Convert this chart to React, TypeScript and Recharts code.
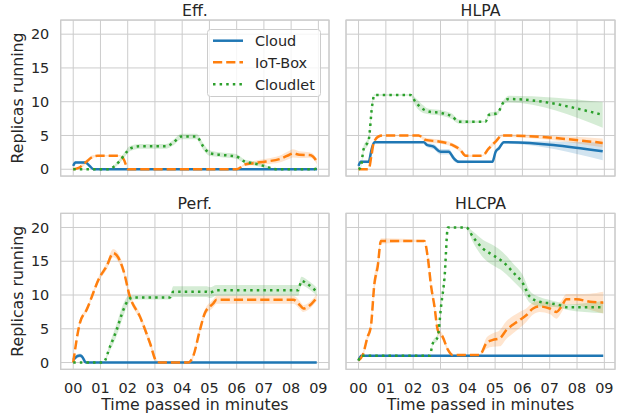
import React from 'react';
import {
  ComposedChart,
  Line,
  Area,
  XAxis,
  YAxis,
  CartesianGrid,
  ReferenceArea,
  Legend,
} from 'recharts';

// ---------- labels ----------
const minuteTicks = [0, 1, 2, 3, 4, 5, 6, 7, 8, 9];
const replicaTicks = [0, 5, 10, 15, 20];
const seriesNames = ['Cloud', 'IoT-Box', 'Cloudlet'];
const panelTitles = ['Eff.', 'HLPA', 'Perf.', 'HLCPA'];
const xLabel = 'Time passed in minutes';
const yLabel = 'Replicas running';

// ---------- Eff. ----------
const effCloudT = [0, 0.08, 0.45, 0.6, 0.75, 8.95];
const effCloudV = [0.5, 1, 1, 0.5, 0, 0];
const effCloudS = [0.3, 0.2, 0.2, 0.3, 0, 0];

const effIotT = [0, 0.2, 0.45, 0.75, 0.9, 1.72, 1.85, 2.02, 6.0, 6.3, 6.6, 7.08, 7.57, 7.94, 8.06, 8.3, 8.67, 8.8, 8.95];
const effIotV = [0, 0.2, 1.0, 1.9, 2.0, 2.0, 1.5, 0, 0, 0.7, 0.9, 1.15, 1.5, 2.15, 2.35, 2.15, 2.1, 1.9, 1.1];
const effIotS = [0, 0.2, 0.3, 0.2, 0.1, 0.1, 0.2, 0, 0, 0.2, 0.3, 0.4, 0.5, 0.6, 0.6, 0.5, 0.4, 0.4, 0.4];

const effCletT = [0, 1.3, 1.5, 1.7, 1.95, 2.08, 2.44, 3.42, 3.66, 3.97, 4.52, 4.77, 5.0, 5.37, 5.98, 6.29, 6.6, 7.08, 7.45, 8.85, 8.95];
const effCletV = [0, 0, 0.4, 1.2, 2.5, 3.05, 3.4, 3.4, 3.9, 4.85, 4.85, 3.4, 2.4, 2.15, 1.9, 1.15, 0.9, 0.4, 0, 0, 0.3];
const effCletS = [0, 0, 0.2, 0.3, 0.4, 0.4, 0.35, 0.35, 0.4, 0.4, 0.4, 0.5, 0.4, 0.35, 0.35, 0.3, 0.3, 0.2, 0, 0, 0.3];

// ---------- HLPA ----------
const hlpaCloudT = [0, 0.08, 0.37, 0.48, 0.58, 2.39, 2.5, 2.75, 3.0, 3.3, 3.49, 3.67, 4.9, 5.02, 5.14, 5.32, 8.94];
const hlpaCloudV = [0.5, 1.1, 1.1, 3.0, 4.0, 4.0, 3.6, 3.35, 2.6, 2.6, 1.6, 1.1, 1.1, 2.6, 3.1, 4.0, 2.65];
const hlpaCloudS = [0.3, 0.2, 0.2, 0.2, 0.1, 0.1, 0.3, 0.4, 0.4, 0.4, 0.4, 0.2, 0.1, 0.3, 0.3, 0.2, 1.3];

const hlpaIotT = [0, 0.37, 0.47, 0.55, 0.73, 0.9, 2.2, 2.45, 2.94, 3.43, 3.73, 3.92, 4.53, 4.77, 5.02, 5.26, 8.94];
const hlpaIotV = [0, 0, 2.0, 3.85, 4.85, 5.0, 5.0, 4.35, 4.1, 3.6, 2.85, 2.0, 2.0, 3.1, 4.1, 5.0, 3.9];
const hlpaIotS = [0, 0, 0.3, 0.3, 0.2, 0.1, 0.1, 0.3, 0.3, 0.3, 0.3, 0.2, 0.1, 0.3, 0.3, 0.2, 0.65];

const hlpaCletT = [0, 0.08, 0.18, 0.37, 0.5, 0.58, 1.9, 2.08, 2.33, 2.57, 3.06, 3.43, 3.67, 4.65, 4.77, 5.08, 5.32, 5.5, 8.94];
const hlpaCletV = [0, 0.3, 2.9, 4.35, 9.5, 11.0, 11.0, 10.0, 9.0, 8.55, 8.3, 7.8, 7.05, 7.05, 8.05, 8.3, 10.0, 10.4, 8.05];
const hlpaCletS = [0, 0.2, 0.5, 0.5, 0.5, 0.1, 0.1, 0.6, 0.6, 0.4, 0.4, 0.4, 0.3, 0.1, 0.3, 0.3, 0.3, 0.5, 1.9];

// ---------- Perf. ----------
const perfCloudT = [0, 0.15, 0.25, 0.32, 0.47, 8.94];
const perfCloudV = [0.4, 0.95, 1.05, 0.9, 0, 0];
const perfCloudS = [0.3, 0.3, 0.3, 0.3, 0, 0];

const perfIotT = [0, 0.24, 0.49, 0.98, 1.22, 1.47, 1.59, 1.84, 2.08, 2.45, 2.82, 3.06, 3.18, 4.22, 4.4, 4.65, 4.83, 5.14, 5.26, 8.08, 8.32, 8.45, 8.63, 8.94];
const perfIotV = [0, 5.8, 7.8, 12.7, 14.2, 16.2, 15.9, 13.7, 9.75, 6.8, 2.86, 0.15, 0, 0, 0.9, 4.8, 7.3, 8.75, 9.3, 9.3, 8.5, 8.0, 8.3, 9.6];
const perfIotS = [0, 0.3, 0.3, 0.4, 0.5, 0.6, 0.6, 0.6, 0.5, 0.5, 0.5, 0.3, 0, 0, 0.3, 0.5, 0.5, 0.6, 0.6, 0.6, 0.6, 0.5, 0.5, 0.5];

const perfCletT = [0, 1.1, 1.35, 1.59, 1.84, 2.02, 2.2, 3.55, 3.67, 4.9, 5.02, 5.26, 8.26, 8.38, 8.57, 8.94];
const perfCletV = [0, 0, 2.36, 4.8, 7.8, 9.26, 9.65, 9.65, 10.5, 10.5, 10.35, 10.7, 10.7, 12.1, 11.7, 10.5];
const perfCletS = [0, 0, 0.6, 0.9, 0.9, 0.6, 0.3, 0.3, 0.8, 0.8, 0.8, 0.8, 0.8, 0.6, 0.6, 0.6];

// ---------- HLCPA ----------
const hlcpaCloudT = [0, 0.1, 8.96];
const hlcpaCloudV = [0.3, 1, 1];
const hlcpaCloudS = [0, 0, 0];

const hlcpaIotT = [0, 0.15, 0.33, 0.45, 0.58, 0.7, 0.82, 2.41, 2.53, 2.66, 2.78, 2.9, 3.08, 3.27, 3.45, 4.43, 4.68, 4.92, 5.17, 5.41, 5.65, 5.9, 6.14, 6.39, 6.63, 7.0, 7.25, 7.43, 7.61, 7.98, 8.47, 8.96];
const hlcpaIotV = [0.3, 1.1, 3.8, 5.3, 11.7, 14.2, 18, 18, 15.7, 11.2, 8.3, 4.8, 3.8, 1.9, 1.1, 1.1, 2.86, 3.35, 3.6, 4.8, 5.6, 6.3, 7.0, 8.0, 8.3, 8.0, 7.5, 8.3, 9.36, 9.36, 9.0, 8.87];
const hlcpaIotS = [0, 0.3, 0.5, 0.8, 1.2, 1.0, 0.4, 0.1, 0.4, 0.5, 0.5, 0.5, 0.4, 0.3, 0.1, 0.1, 0.8, 1.0, 1.2, 1.3, 1.3, 1.2, 1.0, 0.9, 0.8, 0.8, 1.0, 0.9, 0.8, 0.8, 1.2, 1.6];

const hlcpaCletT = [0, 0.08, 2.6, 2.72, 2.9, 3.02, 3.15, 3.27, 3.94, 4.19, 4.55, 4.92, 5.29, 5.65, 6.02, 6.27, 6.63, 7.0, 7.37, 7.61, 8.96];
const hlcpaCletV = [0.3, 1, 1, 2.86, 3.8, 8.3, 12.7, 20, 20, 18.6, 16.9, 15.9, 14.9, 13.4, 11.7, 9.75, 9.0, 8.77, 8.5, 8.2, 8.2];
const hlcpaCletS = [0, 0, 0, 0.3, 0.5, 0.5, 0.5, 0.1, 0.1, 0.8, 1.3, 1.5, 1.4, 1.3, 1.2, 0.9, 0.7, 0.5, 0.4, 0.4, 0.9];

// ---------- styling ----------
const COLORS = ['#1f77b4', '#ff7f0e', '#2ca02c'];
const LINE_W = 2.5;
const DASHES = [undefined, '9.2 4', '2.5 4.1'];
const FONT = '"DejaVu Sans", Verdana, sans-serif';
const TEXT = '#262626';
const GRID = '#cccccc';
const X_DOMAIN: [number, number] = [-0.46, 9.39];
const Y_DOMAIN: [number, number] = [-1.0, 22.1];
const W = 618;
const H = 415;

type Series = { t: number[]; v: number[]; s: number[] };

const toPoints = (sr: Series) =>
  sr.t.map((t, i) => ({ t, v: sr.v[i], band: [sr.v[i] - sr.s[i], sr.v[i] + sr.s[i]] }));

type PanelCfg = {
  title: string;
  series: Series[];
  plot: { left: number; right: number; top: number; bottom: number };
  showY: boolean;
  showX: boolean;
  legend: boolean;
};

const panels: PanelCfg[] = [
  {
    title: panelTitles[0],
    series: [
      { t: effCloudT, v: effCloudV, s: effCloudS },
      { t: effIotT, v: effIotV, s: effIotS },
      { t: effCletT, v: effCletV, s: effCletS },
    ],
    plot: { left: 60.7, right: 329, top: 20, bottom: 176 },
    showY: true,
    showX: false,
    legend: true,
  },
  {
    title: panelTitles[1],
    series: [
      { t: hlpaCloudT, v: hlpaCloudV, s: hlpaCloudS },
      { t: hlpaIotT, v: hlpaIotV, s: hlpaIotS },
      { t: hlpaCletT, v: hlpaCletV, s: hlpaCletS },
    ],
    plot: { left: 346, right: 615, top: 20, bottom: 176 },
    showY: false,
    showX: false,
    legend: false,
  },
  {
    title: panelTitles[2],
    series: [
      { t: perfCloudT, v: perfCloudV, s: perfCloudS },
      { t: perfIotT, v: perfIotV, s: perfIotS },
      { t: perfCletT, v: perfCletV, s: perfCletS },
    ],
    plot: { left: 60.7, right: 329, top: 213.3, bottom: 369.3 },
    showY: true,
    showX: true,
    legend: false,
  },
  {
    title: panelTitles[3],
    series: [
      { t: hlcpaCloudT, v: hlcpaCloudV, s: hlcpaCloudS },
      { t: hlcpaIotT, v: hlcpaIotV, s: hlcpaIotS },
      { t: hlcpaCletT, v: hlcpaCletV, s: hlcpaCletS },
    ],
    plot: { left: 346, right: 615, top: 213.3, bottom: 369.3 },
    showY: false,
    showX: true,
    legend: false,
  },
];

const LegendBox = () => {
  const rows = [11.7, 33.3, 55.3];
  return (
    <svg width={114} height={68} style={{ display: 'block', overflow: 'visible' }}>
      <rect x={0.5} y={0.5} width={113} height={67} rx={3} ry={3} fill="#ffffff" fillOpacity={0.8} stroke={GRID} strokeWidth={1} />
      {seriesNames.map((name, i) => (
        <g key={name}>
          <line x1={6} x2={36} y1={rows[i]} y2={rows[i]} stroke={COLORS[i]} strokeWidth={LINE_W} strokeDasharray={DASHES[i]} />
          <text x={48} y={rows[i] + 5.2} fontSize={14.44} fontFamily={FONT} fill={TEXT}>
            {name}
          </text>
        </g>
      ))}
    </svg>
  );
};

const pad2 = (t: number) => String(t).padStart(2, '0');

const Panel = ({ cfg }: { cfg: PanelCfg }) => {
  const { plot } = cfg;
  // axes always get at least 1px so that they (and their labels) render
  const yAxisW = cfg.showY ? plot.left : 1;
  const xAxisH = cfg.showX ? H - plot.bottom : 1;
  const margin = {
    top: plot.top,
    right: W - plot.right,
    bottom: H - plot.bottom - xAxisH,
    left: plot.left - yAxisW,
  };
  const cx = (plot.left + plot.right) / 2;
  const cy = (plot.top + plot.bottom) / 2;
  const titleY = plot.top - 4;

  const xTexts = () =>
    cfg.showX ? (
      <text x={cx} y={409.8} textAnchor="middle" fontSize={15.75} fontFamily={FONT} fill={TEXT}>
        {xLabel}
      </text>
    ) : (
      <g />
    );
  const yTexts = () => (
    <g>
      <text x={cx} y={titleY} textAnchor="middle" fontSize={15.75} fontFamily={FONT} fill={TEXT}>
        {cfg.title}
      </text>
      {cfg.showY && (
        <text
          x={23.3}
          y={cy}
          transform={`rotate(-90, 23.3, ${cy})`}
          textAnchor="middle"
          fontSize={15.75}
          fontFamily={FONT}
          fill={TEXT}
        >
          {yLabel}
        </text>
      )}
    </g>
  );

  return (
    <div style={{ position: 'absolute', left: 0, top: 0 }}>
      <ComposedChart width={W} height={H} margin={margin}>
        <CartesianGrid stroke={GRID} strokeWidth={1} />
        <XAxis
          type="number"
          dataKey="t"
          domain={X_DOMAIN}
          ticks={minuteTicks}
          interval={0}
          allowDataOverflow
          height={xAxisH}
          axisLine={false}
          tickLine={false}
          tickSize={0}
          tickMargin={13.5}
          tick={{ fill: TEXT, fontSize: 14.44, fontFamily: FONT }}
          tickFormatter={cfg.showX ? pad2 : () => ''}
          label={xTexts}
        />
        <YAxis
          type="number"
          domain={Y_DOMAIN}
          ticks={replicaTicks}
          interval={0}
          allowDataOverflow
          width={yAxisW}
          axisLine={false}
          tickLine={false}
          tickSize={0}
          tickMargin={11.4}
          tick={{ fill: TEXT, fontSize: 14.44, fontFamily: FONT }}
          tickFormatter={cfg.showY ? (v: number) => String(v) : () => ''}
          label={yTexts}
        />
        {cfg.series.map((sr, i) => (
          <Area
            key={`band-${i}`}
            data={toPoints(sr)}
            dataKey="band"
            type="monotoneX"
            stroke="none"
            fill={COLORS[i]}
            fillOpacity={0.2}
            legendType="none"
            dot={false}
            activeDot={false}
            isAnimationActive={false}
          />
        ))}
        {cfg.series.map((sr, i) => (
          <Line
            key={`line-${i}`}
            data={toPoints(sr)}
            dataKey="v"
            name={seriesNames[i]}
            type="monotoneX"
            stroke={COLORS[i]}
            strokeWidth={LINE_W}
            strokeDasharray={DASHES[i]}
            dot={false}
            activeDot={false}
            isAnimationActive={false}
          />
        ))}
        <ReferenceArea
          x1={X_DOMAIN[0]}
          x2={X_DOMAIN[1]}
          y1={Y_DOMAIN[0]}
          y2={Y_DOMAIN[1]}
          fill="none"
          fillOpacity={0}
          stroke={GRID}
          strokeWidth={1.25}
          ifOverflow="visible"
        />
        {cfg.legend && (
          <Legend
            layout="vertical"
            align="center"
            verticalAlign="middle"
            wrapperStyle={{ position: 'absolute', left: 207, top: 29, width: 114, height: 68, margin: 0, padding: 0 }}
            content={() => <LegendBox />}
          />
        )}
      </ComposedChart>
    </div>
  );
};

export default function App() {
  return (
    <div style={{ position: 'absolute', left: 0, top: 0, width: W, height: H, background: '#ffffff' }}>
      {panels.map((p) => (
        <Panel key={p.title} cfg={p} />
      ))}
    </div>
  );
}
